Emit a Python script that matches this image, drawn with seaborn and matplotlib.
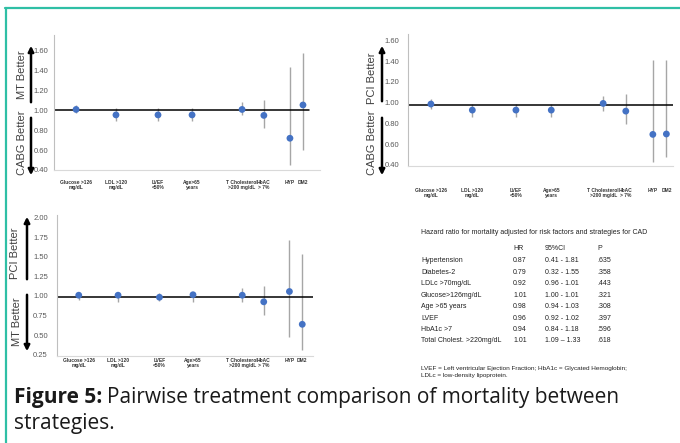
import matplotlib
matplotlib.use("Agg")
import matplotlib.pyplot as plt
import seaborn as sns
import pandas as pd
from matplotlib.patches import FancyArrowPatch
from matplotlib.lines import Line2D

# --- data ---
categories = ["Glucose >126\nmg/dL", "LDL >120\nmg/dL", "LVEF\n<50%", "Age>65\nyears",
              "T Cholesterol\n>200 mg/dL", "HbAC\n> 7%", "HYP", "DM2"]
# where each category sits along the (0-100) x scale
cat_x = [8.3, 23.3, 39.1, 51.9, 70.7, 78.9, 88.7, 93.6]

# MT vs CABG
mt_cabg_hr = [1.01, 0.955, 0.955, 0.955, 1.01, 0.95, 0.72, 1.055]
mt_cabg_lo = [0.97, 0.89, 0.89, 0.89, 0.95, 0.82, 0.455, 0.60]
mt_cabg_hi = [1.05, 1.02, 1.02, 1.02, 1.09, 1.11, 1.44, 1.58]

# PCI vs CABG
pci_cabg_hr = [0.986, 0.928, 0.928, 0.928, 0.992, 0.918, 0.694, 0.698]
pci_cabg_lo = [0.935, 0.857, 0.857, 0.857, 0.92, 0.79, 0.432, 0.48]
pci_cabg_hi = [1.03, 0.99, 0.99, 0.99, 1.06, 1.08, 1.414, 1.414]

# PCI vs MT
pci_mt_hr = [1.01, 1.01, 0.984, 1.016, 1.01, 0.926, 1.057, 0.64]
pci_mt_lo = [0.955, 0.926, 0.934, 0.926, 0.926, 0.76, 0.48, 0.31]
pci_mt_hi = [1.057, 1.057, 1.037, 1.057, 1.098, 1.13, 1.71, 1.53]

ref_lines = [1.0, 0.975, 0.99]

yticks_top = [0.40, 0.60, 0.80, 1.00, 1.20, 1.40, 1.60]
yticks_bottom = [0.25, 0.50, 0.75, 1.00, 1.25, 1.50, 1.75, 2.00]

# table
table_title = "Hazard ratio for mortality adjusted for risk factors and strategies for CAD"
table_cols = ["HR", "95%CI", "P"]
table_rows = ["Hypertension", "Diabetes-2", "LDLc >70mg/dL", "Glucose>126mg/dL",
              "Age >65 years", "LVEF", "HbA1c >7", "Total Cholest. >220mg/dL"]
table_hr = ["0.87", "0.79", "0.92", "1.01", "0.98", "0.96", "0.94", "1.01"]
table_ci = ["0.41 - 1.81", "0.32 - 1.55", "0.96 - 1.01", "1.00 - 1.01",
            "0.94 - 1.03", "0.92 - 1.02", "0.84 - 1.18", "1.09 \u2013 1.33"]
table_p = [".635", ".358", ".443", ".321", ".308", ".397", ".596", ".618"]
footnote = ("LVEF = Left ventricular Ejection Fraction; HbA1c = Glycated Hemoglobin;\n"
            "LDLc = low-density lipoprotein.")

caption_bold = "Figure 5:"
caption_rest = "Pairwise treatment comparison of mortality between"
caption_line2 = "strategies."

# --- style ---
sns.set_style("white")
plt.rcParams['font.family'] = ['Liberation Sans', 'DejaVu Sans']

W, H = 680, 443
fig = plt.figure(figsize=(W / 100, H / 100), dpi=100, facecolor='white')


def fx(px):
    return px / W


def fy(py):
    return 1 - py / H


def box(l, t, r, b):
    return [fx(l), fy(b), (r - l) / W, (b - t) / H]


def forest(rect, hr, lo, hi, ref, ylim, yticks, xmax, label_pad, ypad, ref_end=1.0):
    ax = fig.add_axes(rect)
    df = pd.DataFrame({'x': cat_x, 'hr': hr, 'lo': lo, 'hi': hi})
    ax.vlines(df['x'], df['lo'], df['hi'], color='#a6a6a6', lw=1.0, zorder=2)
    ax.axhline(ref, xmin=0, xmax=ref_end, color='black', lw=1.1, zorder=2)
    sns.scatterplot(data=df, x='x', y='hr', ax=ax, color='#4472c4', s=24,
                    edgecolor='none', zorder=3, legend=False)
    ax.set_xlim(0, xmax)
    ax.set_ylim(*ylim)
    ax.set_yticks(yticks)
    ax.set_yticklabels([f"{v:.2f}" for v in yticks], fontsize=5.5, color='#595959')
    ax.set_xticks(cat_x)
    ax.set_xticklabels(categories, fontsize=3.5, fontweight='bold', color='#333333',
                       linespacing=1.0)
    ax.tick_params(axis='x', length=0, pad=label_pad)
    ax.tick_params(axis='y', length=0, pad=ypad)
    ax.set_xlabel('')
    ax.set_ylabel('')
    for s in ['top', 'right']:
        ax.spines[s].set_visible(False)
    ax.spines['left'].set_color('#bfbfbf')
    ax.spines['left'].set_linewidth(0.8)
    ax.spines['bottom'].set_color('#d9d9d9')
    ax.spines['bottom'].set_linewidth(0.8)
    ax.set_facecolor('none')
    return ax


def arrow(x, y0, y1):
    fig.add_artist(FancyArrowPatch((fx(x), fy(y0)), (fx(x), fy(y1)),
                                   transform=fig.transFigure, arrowstyle='-|>',
                                   mutation_scale=8, lw=1.8, color='black'))


def side_label(x, y, s):
    fig.text(fx(x), fy(y), s, rotation=90, ha='center', va='center',
             fontsize=8, color='#404040')


# panel 1: MT vs CABG
forest(box(54, 35, 320, 170), mt_cabg_hr, mt_cabg_lo, mt_cabg_hi, ref_lines[0],
       (0.4, 1.76), yticks_top, 100, 7, 4, ref_end=0.96)
arrow(31, 105, 43)
arrow(31, 115, 178)
side_label(22, 75, "MT Better")
side_label(22, 143, "CABG Better")

# panel 2: PCI vs CABG
forest(box(408, 34, 673, 166), pci_cabg_hr, pci_cabg_lo, pci_cabg_hi, ref_lines[1],
       (0.39, 1.66), yticks_top, 96, 16, 6.5)
arrow(382, 104, 43)
arrow(382, 115, 178)
side_label(372, 78, "PCI Better")
side_label(372, 143, "CABG Better")

# panel 3: PCI vs MT
forest(box(57, 215, 313, 356), pci_mt_hr, pci_mt_lo, pci_mt_hi, ref_lines[2],
       (0.237, 2.03), yticks_bottom, 97.7, 1.5, 6.5)
arrow(27, 282, 214)
arrow(27, 292, 354)
side_label(15, 253, "PCI Better")
side_label(17, 322, "MT Better")

# table
tfs = 5.0
fig.text(fx(421), fy(233), table_title, fontsize=tfs, va='center', color='#222222')
col_x = [513, 545, 597]
for cx, c in zip(col_x, table_cols):
    fig.text(fx(cx), fy(249), c, fontsize=tfs, va='center', color='#222222')
for i, name in enumerate(table_rows):
    yy = 261 + i * 11.4
    fig.text(fx(421), fy(yy), name, fontsize=tfs, va='center', color='#222222')
    fig.text(fx(col_x[0]), fy(yy), table_hr[i], fontsize=tfs, va='center', color='#222222')
    fig.text(fx(col_x[1]), fy(yy), table_ci[i], fontsize=tfs, va='center', color='#222222')
    fig.text(fx(col_x[2]), fy(yy), table_p[i], fontsize=tfs, va='center', color='#222222')
fig.text(fx(421), fy(372), footnote, fontsize=4.6, va='center', color='#222222',
         linespacing=1.7)

# frame lines
teal = '#2fbfa5'
fig.add_artist(Line2D([fx(5), fx(680)], [fy(8), fy(8)], transform=fig.transFigure,
                      color=teal, lw=1.6))
fig.add_artist(Line2D([fx(5.5), fx(5.5)], [fy(8), fy(443)], transform=fig.transFigure,
                      color=teal, lw=1.6))

# caption
cap_font = ['Open Sans', 'DejaVu Sans']
cap_fs = 15
t1 = fig.text(fx(14), fy(397), caption_bold, fontsize=cap_fs, fontweight='bold',
              family=cap_font, va='center', color='#1a1a1a')
renderer = fig.canvas.get_renderer()
bb = t1.get_window_extent(renderer)
fig.text(fx(bb.x1 + 5), fy(397), caption_rest, fontsize=cap_fs, family=cap_font,
         va='center', color='#1a1a1a')
fig.text(fx(14), fy(424), caption_line2, fontsize=cap_fs, family=cap_font,
         va='center', color='#1a1a1a')

fig.savefig('out.png', dpi=100, facecolor='white')
plt.close(fig)
